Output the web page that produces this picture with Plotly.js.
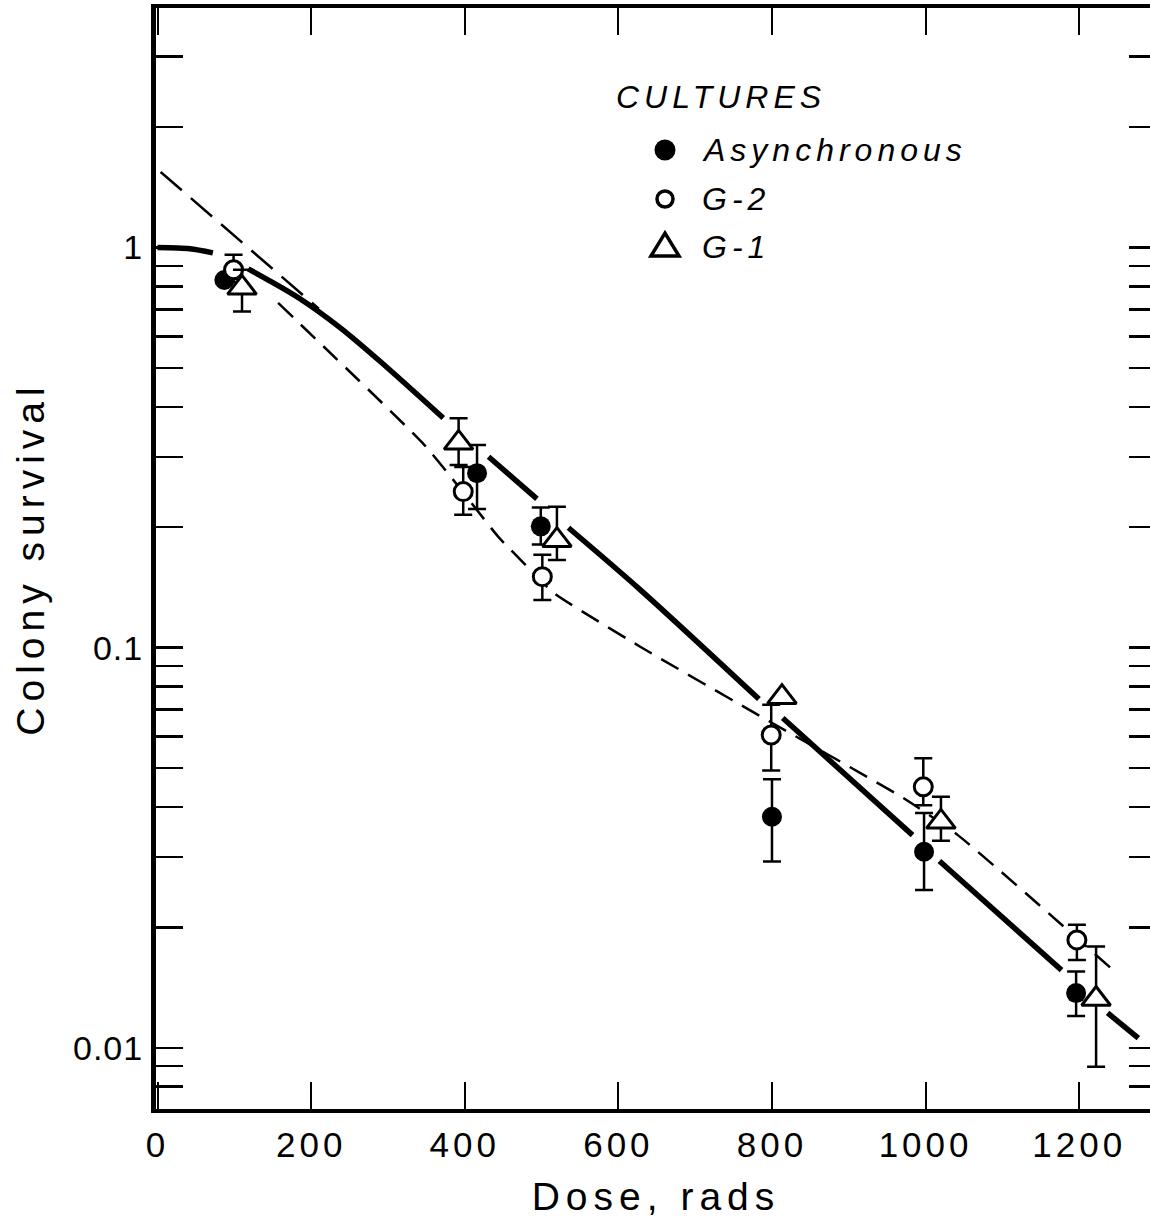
<!DOCTYPE html>
<html>
<head>
<meta charset="utf-8">
<script src="https://cdn.plot.ly/plotly-3.0.1.min.js"></script>
<style>
  html, body { margin: 0; padding: 0; background: #fff; overflow: hidden; }
  #chart { width: 1156px; height: 1224px; }
  .xtick text { letter-spacing: 4px; }
  .ytick text { letter-spacing: 1px; }
  .xtitle, .ytitle { letter-spacing: 6px; }
  .annotation-text { letter-spacing: 5px; }
</style>
</head>
<body>
<div id="chart"></div>
<script>
// Colony survival versus X-ray dose for three kinds of culture.

// Asynchronous cultures (filled circles)
const asyncDose = [87, 416, 499, 800, 998, 1196];
const asyncSurv = [0.83, 0.273, 0.201, 0.0378, 0.0309, 0.0137];
const asyncHigh = [0.83, 0.321, 0.224, 0.0469, 0.0386, 0.0155];
const asyncLow  = [0.83, 0.222, 0.181, 0.0292, 0.0248, 0.0120];

// G-2 cultures (open circles)
const g2Dose = [99, 398, 501, 799, 997, 1197];
const g2Surv = [0.88, 0.2455, 0.1505, 0.0605, 0.0449, 0.0186];
const g2High = [0.959, 0.283, 0.1706, 0.072, 0.0529, 0.0203];
const g2Low  = [0.82, 0.215, 0.1316, 0.0493, 0.0404, 0.01656];

// G-1 cultures (open triangles)
const g1Dose = [110, 392, 520, 813, 1020, 1222];
const g1Surv = [0.793, 0.325, 0.1856, 0.0752, 0.0367, 0.01324];
const g1High = [0.88, 0.3745, 0.225, 0.0752, 0.0424, 0.0179];
const g1Low  = [0.692, 0.286, 0.1656, 0.0752, 0.0329, 0.00897];

// Shouldered survival curve (solid, broken where it passes the points)
const curveDose = [0, 42, 72, null, 118, 146, 186, 238, 290, 372, null, 431, 494, null,
                   535, 629, 783, null, 814, 983, null, 1018, 1177, null, 1237, 1277];
const curveSurv = [1.0, 0.993, 0.970, null, 0.885, 0.826, 0.744, 0.630, 0.519, 0.375, null, 0.30, 0.2355, null,
                   0.1994, 0.1393, 0.0744, null, 0.0667, 0.034, null, 0.0293, 0.01563, null, 0.01222, 0.01057];

// Back-extrapolation of the exponential part to zero dose
const extrapDose = [4, 210];
const extrapSurv = [1.545, 0.703];

// Curve through the G-2 points (dashed)
const g2CurveDose = [157, 345, 385, 444, 482, 516, 629, 789, 971, 1042, 1247];
const g2CurveSurv = [0.727, 0.325, 0.2626, 0.189, 0.159, 0.137, 0.1004, 0.0667, 0.0421, 0.034, 0.01546];

// Axis ticks
const doseTicks = [0, 200, 400, 600, 800, 1000, 1200];
const doseTickText = ['0', '200', '400', '600', '800', '1000', '1200'];
const survTicks = [0.008, 0.009, 0.01, 0.02, 0.03, 0.04, 0.05, 0.06, 0.07, 0.08, 0.09,
                   0.1, 0.2, 0.3, 0.4, 0.5, 0.6, 0.7, 0.8, 0.9, 1, 2, 3];
const survTickText = survTicks.map(v => (v === 0.01 || v === 0.1 || v === 1) ? String(v) : '');

// Legend
const legendTitle = 'CULTURES';
const legendLabels = ['Asynchronous', 'G-2', 'G-1'];

const FONT = 'Liberation Sans, Arial, Helvetica, sans-serif';

function errBars(y, hi, lo) {
  return {
    type: 'data', symmetric: false,
    array: hi.map((h, i) => h - y[i]),
    arrayminus: lo.map((l, i) => y[i] - l),
    color: '#000', thickness: 2.5, width: 9
  };
}

const traces = [
  { x: curveDose, y: curveSurv, mode: 'lines', connectgaps: false,
    line: { color: '#000', width: 5.5, shape: 'spline', smoothing: 0.8 },
    showlegend: false, hoverinfo: 'skip' },
  { x: extrapDose, y: extrapSurv, mode: 'lines',
    line: { color: '#000', width: 2.5, dash: '28px,12px' },
    showlegend: false, hoverinfo: 'skip' },
  { x: g2CurveDose, y: g2CurveSurv, mode: 'lines',
    line: { color: '#000', width: 2.5, dash: '20px,11px', shape: 'spline', smoothing: 0.5 },
    showlegend: false, hoverinfo: 'skip' },
  { x: asyncDose, y: asyncSurv, mode: 'markers', name: 'Asynchronous',
    error_y: errBars(asyncSurv, asyncHigh, asyncLow),
    marker: { symbol: 'circle', size: 20, color: '#000', line: { width: 0 } },
    showlegend: false },
  { x: g2Dose, y: g2Surv, mode: 'markers', name: 'G-2',
    error_y: errBars(g2Surv, g2High, g2Low),
    marker: { symbol: 'circle', size: 18, color: '#fff', line: { color: '#000', width: 3 } },
    showlegend: false },
  { x: g1Dose, y: g1Surv, mode: 'markers', name: 'G-1',
    error_y: errBars(g1Surv, g1High, g1Low),
    marker: { symbol: 'triangle-up', size: 25, color: '#fff', line: { color: '#000', width: 3 } },
    showlegend: false }
];

// Legend in the upper right of the plot area (paper coordinates)
const PLOT_L = 156, PLOT_T = 8, PLOT_W = 1000, PLOT_H = 1101;
const px = v => (v - PLOT_L) / PLOT_W;
const py = v => (PLOT_T + PLOT_H - v) / PLOT_H;

const legendRows = [150, 199, 247];
const SYM_X = 665;
const annotations = [
  { text: '<i>' + legendTitle + '</i>', xref: 'paper', yref: 'paper',
    x: px(614), y: py(97), xanchor: 'left', yanchor: 'middle', showarrow: false,
    font: { family: FONT, size: 32, color: '#000' } }
];
legendLabels.forEach((lab, i) => {
  annotations.push({ text: '<i>' + lab + '</i>', xref: 'paper', yref: 'paper',
    x: px(700), y: py(legendRows[i]), xanchor: 'left', yanchor: 'middle', showarrow: false,
    font: { family: FONT, size: 32, color: '#000' } });
});

// Legend symbols drawn as small pixel-sized shapes
const symBase = { xref: 'paper', yref: 'paper', xsizemode: 'pixel', ysizemode: 'pixel', xanchor: px(SYM_X) };
const shapes = [
  Object.assign({}, symBase, { type: 'circle', yanchor: py(legendRows[0]),
    x0: -10.5, x1: 10.5, y0: -10.5, y1: 10.5, fillcolor: '#000', line: { color: '#000', width: 0 } }),
  Object.assign({}, symBase, { type: 'circle', yanchor: py(legendRows[1]),
    x0: -8, x1: 8, y0: -8, y1: 8, fillcolor: '#fff', line: { color: '#000', width: 3.5 } }),
  Object.assign({}, symBase, { type: 'path', yanchor: py(legendRows[2]),
    path: 'M-14,-9L14,-9L0,14Z', fillcolor: '#fff', line: { color: '#000', width: 3.5 } })
];

const layout = {
  width: 1156, height: 1224,
  margin: { l: 156, r: 0, t: 8, b: 115 },
  paper_bgcolor: '#fff', plot_bgcolor: '#fff',
  showlegend: false,
  xaxis: {
    range: [-2, 1300], showgrid: false, zeroline: false,
    showline: true, linecolor: '#000', linewidth: 4, mirror: 'allticks',
    ticks: 'inside', ticklen: 27, tickwidth: 2, tickcolor: '#000',
    tickmode: 'array', tickvals: doseTicks, ticktext: doseTickText,
    tickfont: { family: FONT, size: 35, color: '#000' }, ticklabelstandoff: 2,
    title: { text: 'Dose, rads', font: { family: FONT, size: 39, color: '#000' }, standoff: 21 }
  },
  yaxis: {
    type: 'log', range: [Math.log10(0.00703), Math.log10(3.97)],
    showgrid: false, zeroline: false,
    showline: true, linecolor: '#000', linewidth: 5, mirror: 'allticks',
    ticks: 'inside', ticklen: 27, tickwidth: 2.5, tickcolor: '#000',
    tickmode: 'array', tickvals: survTicks, ticktext: survTickText,
    tickfont: { family: FONT, size: 34, color: '#000' }, ticklabelstandoff: 1,
    title: { text: 'Colony survival', font: { family: FONT, size: 39, color: '#000' }, standoff: 18 }
  },
  annotations: annotations,
  shapes: shapes
};

Plotly.newPlot('chart', traces, layout, { displayModeBar: false, staticPlot: true });
</script>
</body>
</html>
